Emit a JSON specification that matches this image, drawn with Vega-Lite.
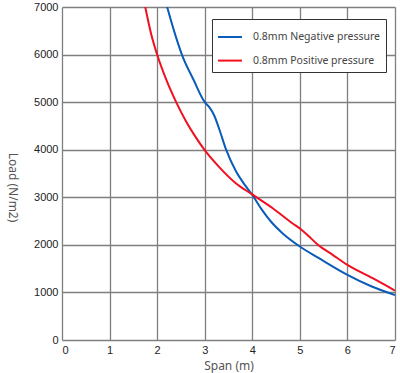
{
  "$schema": "https://vega.github.io/schema/vega-lite/v6.json",
  "width": 333,
  "height": 333,
  "autosize": {"type": "none"},
  "padding": {"left": 62, "top": 7, "right": 5, "bottom": 33},
  "background": "white",
  "config": {
    "view": {"stroke": null},
    "axis": {
      "domain": false,
      "ticks": false,
      "gridColor": "#7f7f7f",
      "gridWidth": 1.3,
      "gridOpacity": 1,
      "labelFont": "Liberation Sans",
      "labelFontSize": 11,
      "labelColor": "#222",
      "titleFont": "Noto Sans",
      "titleFontSize": 12,
      "titleFontWeight": "normal",
      "titleColor": "#555"
    }
  },
  "data": {
    "values": [
      {"series": "0.8mm Negative pressure", "span": 2.21, "load": 7000},
      {"series": "0.8mm Negative pressure", "span": 2.37, "load": 6450},
      {"series": "0.8mm Negative pressure", "span": 2.52, "load": 6000},
      {"series": "0.8mm Negative pressure", "span": 2.77, "load": 5460},
      {"series": "0.8mm Negative pressure", "span": 3.0, "load": 5000},
      {"series": "0.8mm Negative pressure", "span": 3.1, "load": 4890},
      {"series": "0.8mm Negative pressure", "span": 3.2, "load": 4720},
      {"series": "0.8mm Negative pressure", "span": 3.31, "load": 4420},
      {"series": "0.8mm Negative pressure", "span": 3.45, "load": 4000},
      {"series": "0.8mm Negative pressure", "span": 3.66, "load": 3540},
      {"series": "0.8mm Negative pressure", "span": 3.85, "load": 3250},
      {"series": "0.8mm Negative pressure", "span": 4.0, "load": 3050},
      {"series": "0.8mm Negative pressure", "span": 4.2, "load": 2740},
      {"series": "0.8mm Negative pressure", "span": 4.4, "load": 2480},
      {"series": "0.8mm Negative pressure", "span": 4.64, "load": 2240},
      {"series": "0.8mm Negative pressure", "span": 5.0, "load": 1965},
      {"series": "0.8mm Negative pressure", "span": 5.4, "load": 1720},
      {"series": "0.8mm Negative pressure", "span": 6.0, "load": 1370},
      {"series": "0.8mm Negative pressure", "span": 6.5, "load": 1130},
      {"series": "0.8mm Negative pressure", "span": 7.0, "load": 945},
      {"series": "0.8mm Positive pressure", "span": 1.75, "load": 7000},
      {"series": "0.8mm Positive pressure", "span": 1.87, "load": 6450},
      {"series": "0.8mm Positive pressure", "span": 2.0, "load": 6000},
      {"series": "0.8mm Positive pressure", "span": 2.2, "load": 5450},
      {"series": "0.8mm Positive pressure", "span": 2.4, "load": 5000},
      {"series": "0.8mm Positive pressure", "span": 2.6, "load": 4610},
      {"series": "0.8mm Positive pressure", "span": 2.8, "load": 4280},
      {"series": "0.8mm Positive pressure", "span": 3.0, "load": 3990},
      {"series": "0.8mm Positive pressure", "span": 3.3, "load": 3640},
      {"series": "0.8mm Positive pressure", "span": 3.66, "load": 3290},
      {"series": "0.8mm Positive pressure", "span": 4.0, "load": 3060},
      {"series": "0.8mm Positive pressure", "span": 4.43, "load": 2770},
      {"series": "0.8mm Positive pressure", "span": 4.85, "load": 2450},
      {"series": "0.8mm Positive pressure", "span": 5.02, "load": 2330},
      {"series": "0.8mm Positive pressure", "span": 5.2, "load": 2170},
      {"series": "0.8mm Positive pressure", "span": 5.38, "load": 2000},
      {"series": "0.8mm Positive pressure", "span": 5.69, "load": 1790},
      {"series": "0.8mm Positive pressure", "span": 6.0, "load": 1580},
      {"series": "0.8mm Positive pressure", "span": 6.53, "load": 1300},
      {"series": "0.8mm Positive pressure", "span": 7.0, "load": 1040}
    ]
  },
  "mark": {"type": "line", "strokeWidth": 2, "interpolate": "monotone", "clip": true},
  "encoding": {
    "x": {
      "field": "span",
      "type": "quantitative",
      "scale": {"domain": [0, 7], "nice": false},
      "axis": {
        "values": [0, 1, 2, 3, 4, 5, 6, 7],
        "title": "Span (m)",
        "labelPadding": 4,
        "titleBaseline": "middle",
        "titleY": 25.5
      }
    },
    "y": {
      "field": "load",
      "type": "quantitative",
      "scale": {"domain": [0, 7000], "nice": false},
      "axis": {
        "values": [0, 1000, 2000, 3000, 4000, 5000, 6000, 7000],
        "format": "d",
        "title": "Load (N/m2)",
        "labelPadding": 4,
        "titleAngle": 90,
        "titleAlign": "center",
        "titleBaseline": "middle",
        "titleX": -50,
        "titleY": 180
      }
    },
    "color": {
      "field": "series",
      "type": "nominal",
      "scale": {
        "domain": ["0.8mm Negative pressure", "0.8mm Positive pressure"],
        "range": ["#0a5cb8", "#f01020"]
      },
      "legend": {
        "title": null,
        "orient": "none",
        "legendX": 150,
        "legendY": 12,
        "padding": 5,
        "strokeColor": "#333",
        "fillColor": "white",
        "symbolType": "stroke",
        "symbolSize": 576,
        "symbolStrokeWidth": 2,
        "labelOffset": 10,
        "rowPadding": 4.6,
        "labelFont": "Noto Sans",
        "labelFontSize": 10.5,
        "labelColor": "#444"
      }
    }
  }
}
